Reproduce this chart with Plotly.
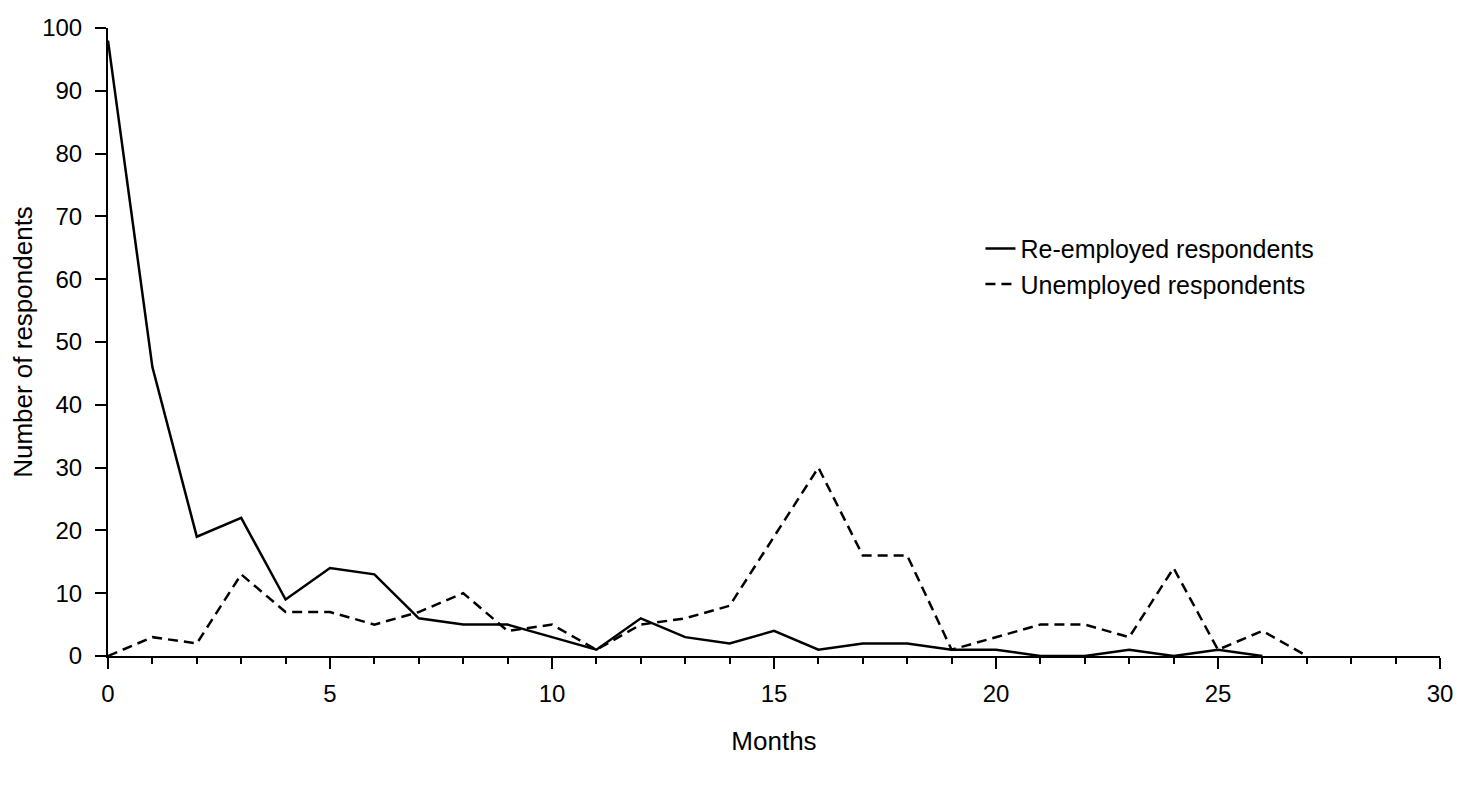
import plotly.graph_objects as go

months_re = list(range(0, 27))
reemployed = [98, 46, 19, 22, 9, 14, 13, 6, 5, 5, 3, 1, 6, 3, 2, 4, 1, 2, 2, 1, 1, 0, 0, 1, 0, 1, 0]

months_un = list(range(0, 28))
unemployed = [0, 3, 2, 13, 7, 7, 5, 7, 10, 4, 5, 1, 5, 6, 8, 19, 30, 16, 16, 1, 3, 5, 5, 3, 14, 1, 4, 0]

x_ticks = [0, 5, 10, 15, 20, 25, 30]
y_ticks = list(range(0, 101, 10))

FONT = "Liberation Sans, Arial, Helvetica, sans-serif"

fig = go.Figure()
fig.add_trace(go.Scatter(
    x=months_re, y=reemployed, mode="lines",
    name="Re-employed respondents",
    line=dict(color="black", width=2.5),
))
fig.add_trace(go.Scatter(
    x=months_un, y=unemployed, mode="lines",
    name="Unemployed respondents",
    line=dict(color="black", width=2.5, dash="10px,6px"),
))

fig.update_layout(
    width=1462, height=787,
    margin=dict(l=100, r=30, t=20, b=139),
    paper_bgcolor="white", plot_bgcolor="white",
    font=dict(family=FONT, size=24, color="black"),
    showlegend=True,
    legend=dict(
        x=0.655, y=0.685, xanchor="left", yanchor="top",
        bgcolor="rgba(0,0,0,0)", borderwidth=0,
        font=dict(family=FONT, size=25, color="black"),
        tracegroupgap=6,
    ),
)

fig.update_xaxes(
    range=[0, 30], tickvals=x_ticks, ticktext=[str(v) for v in x_ticks],
    showgrid=False, zeroline=False, automargin=False,
    showline=True, linecolor="black", linewidth=2,
    ticks="outside", ticklen=11, tickwidth=2, tickcolor="black",
    ticklabelstandoff=4,
    tickfont=dict(family=FONT, size=24, color="black"),
    minor=dict(dtick=1, tick0=0, ticks="outside", ticklen=6, tickwidth=2,
               tickcolor="black", showgrid=False),
    title=dict(text="Months", font=dict(family=FONT, size=26, color="black"),
               standoff=26),
)
fig.update_yaxes(
    range=[0, 100], tickvals=y_ticks, ticktext=[str(v) for v in y_ticks],
    showgrid=False, zeroline=False, automargin=False,
    showline=True, linecolor="black", linewidth=2,
    ticks="outside", ticklen=11, tickwidth=2, tickcolor="black",
    ticklabelstandoff=8,
    tickfont=dict(family=FONT, size=24, color="black"),
    title=dict(text="Number of respondents",
               font=dict(family=FONT, size=26, color="black"), standoff=10),
)

fig.write_html("out.html")
